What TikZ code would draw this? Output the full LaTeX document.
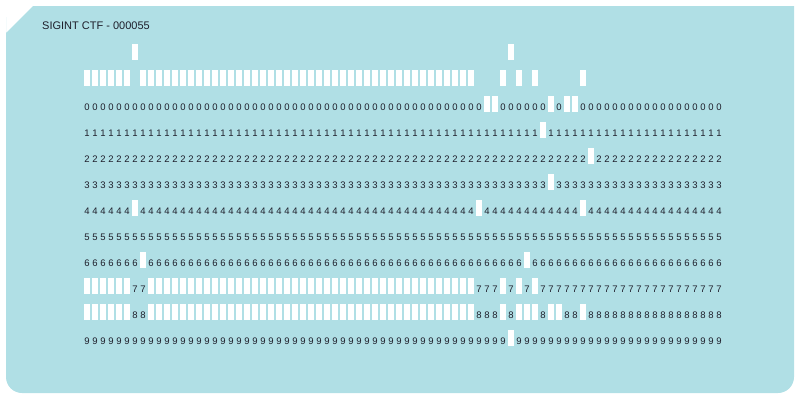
\documentclass[tikz,border=0pt]{standalone}
\usepackage{fontspec}
\setmainfont{Liberation Sans}
\definecolor{cardblue}{HTML}{B0DFE5}
\definecolor{ink}{HTML}{1E1E2A}

\begin{document}
\begin{tikzpicture}[x=1pt, y=-1pt,
    punch/.style={fill=white, inner sep=0, minimum width=6pt, minimum height=16pt},
    digit/.style={anchor=base, inner sep=0, text=ink, font=\fontsize{9.5}{10}\selectfont}]
\useasboundingbox (0, 0) rectangle (800, 400);

\fill [cardblue] (6, 33) -- (33, 6) -- (794, 6) [rounded corners=16pt] -- (794, 393) -- (6, 393) -- (6, 33) [sharp corners] -- cycle;

\node [anchor=base west, inner sep=0, text=ink, font=\fontsize{11}{12}\selectfont] (title) at (42, 29.5) {SIGINT CTF - 000055};

% rows 12 and 11 carry no digits
\foreach \r/\ry/\hits in {
    12/52/{\c==7 || \c==54},
    11/78/{\c<=6 || (\c>=8 && \c<=49) || \c==53 || \c==55 || \c==57 || \c==63},
    0/104/{\c==51 || \c==52 || \c==59 || \c==61 || \c==62},
    1/130/{\c==58},
    2/156/{\c==64},
    3/182/{\c==59},
    4/208/{\c==7 || \c==50 || \c==63},
    5/234/{0},
    6/260/{\c==8 || \c==56},
    7/286/{\c<=6 || (\c>=9 && \c<=49) || \c==53 || \c==55 || \c==57},
    8/312/{\c<=6 || (\c>=9 && \c<=49) || \c==53 || \c==55 || \c==56 || \c==57 || \c==59 || \c==60 || \c==63},
    9/338/{\c==54}}{
  \foreach \c in {1,...,80}{
    \pgfmathtruncatemacro\hit{\hits}
    \ifnum\hit=1
      \node [punch] (p\r-\c) at ({87+8*(\c-1)}, \ry) {};
    \else\ifnum\r<10
      \node [digit] (d\r-\c) at ({87+8*(\c-1)}, {\ry+6.5}) {\r};
    \fi\fi
  }
}
\end{tikzpicture}
\end{document}
